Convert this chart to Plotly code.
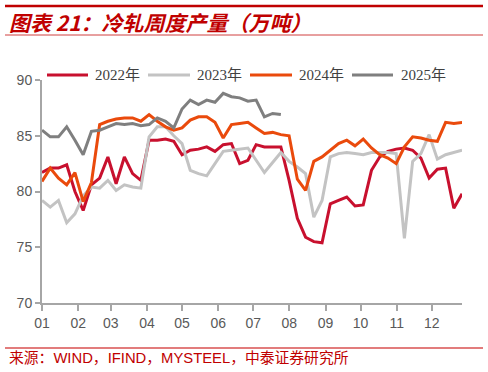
import plotly.graph_objects as go

# ---- data (weekly cold-rolled output, 10k tonnes) ----
series_names = ["2022年", "2023年", "2024年", "2025年"]
v2022 = [81.7, 82.1, 82.1, 82.4, 80.0, 78.3, 80.6, 81.2, 83.1, 80.7, 83.1, 81.6, 81.0,
         84.6, 84.6, 84.7, 84.5, 83.3, 83.7, 83.8, 84.0, 83.6, 84.2, 84.3, 82.5, 82.8,
         84.2, 84.0, 84.0, 84.0, 81.0, 77.6, 75.9, 75.5, 75.4, 78.9, 79.2, 79.5, 78.7,
         78.8, 81.9, 83.1, 83.6, 83.8, 83.9, 83.7, 83.0, 81.2, 82.0, 82.1, 78.5, 79.8]
v2023 = [79.2, 78.6, 79.2, 77.2, 78.0, 79.6, 80.4, 80.3, 81.0, 80.1, 80.6, 80.4, 80.3,
         84.9, 85.8, 85.8, 85.0, 84.3, 81.9, 81.6, 81.4, 82.5, 83.6, 83.7, 83.8, 83.9,
         82.8, 81.7, 82.6, 83.5, 82.7, 82.2, 81.6, 77.7, 79.2, 83.1, 83.4, 83.5, 83.4,
         83.3, 83.5, 83.5, 83.5, 83.4, 75.8, 82.7, 83.4, 85.1, 82.9, 83.3, 83.5, 83.7]
v2024 = [80.9, 82.1, 81.2, 80.6, 81.7, 79.1, 80.8, 86.0, 86.3, 86.5, 86.6, 86.6, 86.3,
         86.9, 86.3, 85.8, 85.5, 85.7, 86.4, 86.7, 86.7, 86.2, 84.8, 86.0, 86.1, 86.2,
         85.7, 85.2, 85.3, 85.1, 85.0, 81.1, 80.1, 82.7, 83.1, 83.7, 84.3, 84.6, 84.1,
         84.7, 83.9, 83.3, 83.0, 82.5, 84.0, 84.9, 84.8, 84.6, 84.5, 86.2, 86.1, 86.2]
v2025 = [85.5, 84.9, 84.9, 85.8, 84.6, 83.3, 85.4, 85.5, 85.8, 86.1, 86.0, 86.1, 85.9,
         86.0, 86.6, 86.3, 85.7, 87.4, 88.2, 87.8, 88.2, 88.0, 88.8, 88.5, 88.4, 88.1,
         88.2, 86.7, 87.0, 86.9]
month_labels = ["01", "02", "03", "04", "05", "06", "07", "08", "09", "10", "11", "12"]
month_start_day = [0, 31, 59, 90, 120, 151, 181, 212, 243, 273, 304, 334]
y_ticks = [70, 75, 80, 85, 90]

DAYS_PER_POINT = 7.06
colors = ["#C8102E", "#C3C3C3", "#EA4A0C", "#7F7F7F"]
all_series = [v2022, v2023, v2024, v2025]

fig = go.Figure()
for name, vals, col in zip(series_names, all_series, colors):
    fig.add_trace(go.Scatter(
        x=list(range(len(vals))), y=vals, mode="lines", name=name,
        line=dict(color=col, width=3), showlegend=False,
    ))

W, H = 488, 372
L, R, T, B = 42, 26, 80, 69
pw, ph = W - L - R, H - T - B


def px_x(X):
    return (X - L) / pw


def px_y(Y):
    return (H - B - Y) / ph


RED = "#C00000"
shapes = [
    dict(type="line", xref="paper", yref="paper", x0=px_x(5), x1=px_x(483),
         y0=px_y(6), y1=px_y(6), line=dict(color=RED, width=2.5)),
    dict(type="line", xref="paper", yref="paper", x0=px_x(5), x1=px_x(483),
         y0=px_y(35), y1=px_y(35), line=dict(color="#D04040", width=1)),
    dict(type="line", xref="paper", yref="paper", x0=px_x(5), x1=px_x(483),
         y0=px_y(348), y1=px_y(348), line=dict(color="#D85050", width=1.5)),
]
annotations = [
    dict(text="<b><i>图表 21：冷轧周度产量（万吨）</i></b>", xref="paper", yref="paper",
         x=px_x(7), y=px_y(22), xanchor="left", yanchor="middle", showarrow=False,
         font=dict(family="Noto Sans CJK SC, Arial", size=21, color=RED)),
    dict(text="来源：WIND，IFIND，MYSTEEL，中泰证券研究所", xref="paper", yref="paper",
         x=px_x(7), y=px_y(358), xanchor="left", yanchor="middle", showarrow=False,
         font=dict(family="Arial, Noto Sans CJK SC", size=14.8, color=RED)),
]

# manual legend
leg_line = [(47, 88), (148, 190), (250, 292), (352, 393)]
leg_text = [93, 195, 297, 399]
leg_y = 75
for (x0, x1), tx, name, col in zip(leg_line, leg_text, series_names, colors):
    shapes.append(dict(type="line", xref="paper", yref="paper", x0=px_x(x0), x1=px_x(x1),
                       y0=px_y(leg_y), y1=px_y(leg_y), line=dict(color=col, width=3)))
    annotations.append(dict(text=name, xref="paper", yref="paper", x=px_x(tx), y=px_y(leg_y),
                            xanchor="left", yanchor="middle", showarrow=False,
                            font=dict(family="Liberation Serif, Noto Sans CJK SC", size=15,
                                      color="#404040")))

fig.update_layout(
    width=W, height=H, margin=dict(l=L, r=R, t=T, b=B),
    paper_bgcolor="white", plot_bgcolor="white",
    shapes=shapes, annotations=annotations,
    xaxis=dict(range=[0, 360 / DAYS_PER_POINT],
               tickvals=[d / DAYS_PER_POINT for d in month_start_day], ticktext=month_labels,
               showgrid=False, zeroline=False, showline=True, linecolor="#A6A6A6", linewidth=2,
               ticks="outside", ticklen=6, tickcolor="#A6A6A6", tickwidth=2,
               tickfont=dict(family="Arial", size=14, color="#595959")),
    yaxis=dict(range=[70, 90], tickvals=y_ticks, showgrid=False, zeroline=False,
               showline=True, linecolor="#A6A6A6", linewidth=2,
               ticks="outside", ticklen=5, tickcolor="#A6A6A6", tickwidth=2,
               tickfont=dict(family="Arial", size=14, color="#595959")),
)

fig.write_html("out.html", config={"displayModeBar": False},
               post_script="document.body.style.margin='0';document.body.style.overflow='hidden';")
